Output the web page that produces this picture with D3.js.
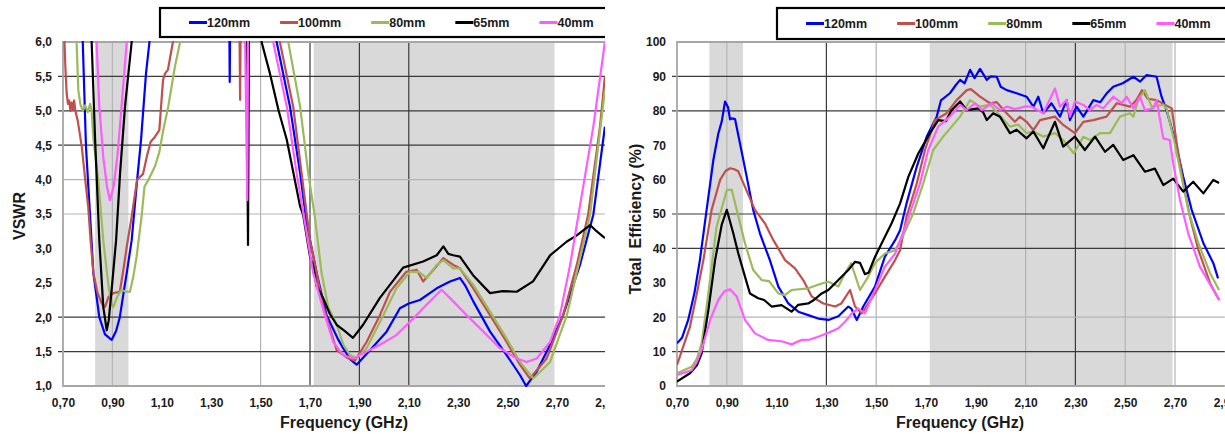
<!DOCTYPE html>
<html>
<head>
<meta charset="utf-8">
<script src="https://cdn.jsdelivr.net/npm/d3@7"></script>
<style>
body { margin: 0; background: #fff; }
text { font-family: "Liberation Sans", Arial, sans-serif; font-weight: bold; fill: #1a1a1a; }
</style>
</head>
<body>
<svg id="chart" width="1225" height="434"></svg>
<script>
var freqTicks = [0.7, 0.9, 1.1, 1.3, 1.5, 1.7, 1.9, 2.1, 2.3, 2.5, 2.7, 2.9];
var vswrTicks = [1, 1.5, 2, 2.5, 3, 3.5, 4, 4.5, 5, 5.5, 6];
var effTicks = [0, 10, 20, 30, 40, 50, 60, 70, 80, 90, 100];
var seriesNames = ["120mm", "100mm", "80mm", "65mm", "40mm"];
var seriesColors = ["#0000ff", "#c0504d", "#9bbb59", "#000000", "#ff5cff"];
var bands = [[0.83, 0.965], [1.715, 2.69]];

// which grid lines the original shows (dark / light)
var vswrGridDark = [1.5, 2, 4.5, 5, 5.5];
var vswrGridLight = [3.5, 4];
var vswrVGridDark = [1.7, 1.9, 2.1];
var vswrVGridLight = [0.9, 1.5];
var effGridDark = [10, 40, 50, 80, 90];
var effGridLight = [20];
var effVGridDark = [1.3, 2.3];
var effVGridLight = [0.9, 1.5, 2.1, 2.5, 2.7];

// VSWR, [GHz, value]; values above 6 run off the top of the plot
var vswr120 = [[0.70, 9], [0.76, 7.5], [0.78, 6.0], [0.793, 4.48], [0.809, 3.51], [0.823, 2.64], [0.847, 2.0], [0.87, 1.75], [0.897, 1.67], [0.915, 1.8], [0.93, 2.0], [0.945, 2.35], [0.958, 2.64], [0.978, 3.12], [1.0, 3.99], [1.016, 4.58], [1.036, 5.54], [1.05, 6.0], [1.1, 7.5], [1.3, 8.5], [1.37, 8], [1.375, 5.42], [1.38, 8], [1.5, 8], [1.565, 6.0], [1.619, 5.06], [1.66, 4.09], [1.687, 3.36], [1.727, 2.64], [1.767, 2.03], [1.815, 1.67], [1.834, 1.55], [1.865, 1.38], [1.889, 1.31], [1.95, 1.55], [2.01, 1.79], [2.064, 2.13], [2.1, 2.2], [2.145, 2.25], [2.213, 2.42], [2.267, 2.52], [2.307, 2.57], [2.33, 2.45], [2.361, 2.23], [2.429, 1.79], [2.496, 1.45], [2.55, 1.16], [2.575, 1.0], [2.618, 1.21], [2.665, 1.55], [2.725, 2.03], [2.793, 2.76], [2.847, 3.49], [2.894, 4.77]];
var vswr100 = [[0.703, 8], [0.706, 6.0], [0.71, 5.6], [0.715, 5.25], [0.72, 5.1], [0.725, 5.15], [0.73, 5.0], [0.735, 5.12], [0.74, 5.02], [0.745, 5.15], [0.75, 5.0], [0.76, 4.85], [0.776, 4.48], [0.79, 4.0], [0.802, 3.61], [0.812, 3.1], [0.823, 2.64], [0.84, 2.35], [0.857, 2.2], [0.87, 2.15], [0.885, 2.3], [0.904, 2.35], [0.93, 2.37], [0.945, 2.7], [0.958, 3.02], [0.978, 3.46], [1.0, 4.0], [1.024, 4.08], [1.039, 4.33], [1.055, 4.55], [1.072, 4.62], [1.09, 4.72], [1.105, 5.45], [1.113, 5.54], [1.125, 5.6], [1.145, 6.0], [1.2, 7.5], [1.41, 8], [1.417, 5.16], [1.423, 8], [1.52, 8], [1.578, 6.0], [1.632, 5.06], [1.666, 4.09], [1.70, 3.12], [1.754, 2.15], [1.808, 1.52], [1.854, 1.40], [1.882, 1.37], [1.929, 1.64], [1.983, 2.03], [2.024, 2.37], [2.09, 2.66], [2.132, 2.69], [2.158, 2.52], [2.2, 2.69], [2.24, 2.86], [2.28, 2.76], [2.307, 2.71], [2.361, 2.42], [2.429, 2.03], [2.496, 1.64], [2.55, 1.31], [2.59, 1.11], [2.658, 1.40], [2.725, 2.03], [2.78, 2.76], [2.826, 3.49], [2.874, 4.77], [2.894, 5.5]];
var vswr80 = [[0.75, 8], [0.755, 6.0], [0.762, 5.3], [0.77, 5.1], [0.78, 5.0], [0.79, 5.08], [0.80, 4.98], [0.81, 5.1], [0.816, 5.0], [0.823, 4.58], [0.843, 3.99], [0.863, 3.12], [0.883, 2.49], [0.895, 2.2], [0.904, 2.15], [0.92, 2.3], [0.937, 2.40], [0.955, 2.37], [0.971, 2.37], [0.985, 2.6], [0.998, 2.88], [1.018, 3.46], [1.03, 3.9], [1.045, 3.99], [1.072, 4.19], [1.09, 4.4], [1.106, 4.72], [1.126, 5.06], [1.153, 5.64], [1.174, 6.0], [1.25, 8], [1.55, 8], [1.612, 6.0], [1.66, 5.06], [1.693, 4.09], [1.72, 3.45], [1.747, 2.64], [1.774, 2.15], [1.808, 1.89], [1.835, 1.6], [1.862, 1.45], [1.889, 1.40], [1.929, 1.55], [1.997, 2.03], [2.05, 2.42], [2.105, 2.66], [2.14, 2.66], [2.172, 2.57], [2.213, 2.76], [2.24, 2.83], [2.28, 2.71], [2.307, 2.71], [2.361, 2.47], [2.429, 2.08], [2.496, 1.69], [2.55, 1.35], [2.604, 1.11], [2.672, 1.35], [2.74, 2.03], [2.787, 2.76], [2.834, 3.49], [2.894, 5.30]];
var vswr65 = [[0.80, 8], [0.816, 6.0], [0.83, 4.58], [0.847, 3.12], [0.863, 2.15], [0.877, 1.81], [0.885, 1.95], [0.897, 2.40], [0.915, 3.12], [0.931, 4.09], [0.951, 5.06], [0.978, 6.0], [1.05, 8], [1.44, 8], [1.449, 3.05], [1.455, 8], [1.49, 8], [1.504, 6.0], [1.538, 5.54], [1.573, 5.0], [1.606, 4.58], [1.66, 3.61], [1.672, 3.49], [1.70, 2.88], [1.712, 2.76], [1.727, 2.45], [1.753, 2.28], [1.78, 2.05], [1.808, 1.89], [1.84, 1.8], [1.874, 1.70], [1.915, 1.89], [1.983, 2.28], [2.077, 2.72], [2.158, 2.81], [2.213, 2.90], [2.24, 3.03], [2.26, 2.92], [2.28, 2.90], [2.307, 2.88], [2.36, 2.61], [2.429, 2.35], [2.48, 2.38], [2.537, 2.37], [2.603, 2.52], [2.672, 2.90], [2.74, 3.10], [2.78, 3.19], [2.834, 3.34], [2.86, 3.25], [2.894, 3.15]];
var vswr40 = [[0.82, 8], [0.836, 6.0], [0.847, 5.06], [0.863, 4.33], [0.878, 3.9], [0.89, 3.70], [0.905, 3.9], [0.92, 4.33], [0.937, 5.06], [0.958, 6.0], [1.0, 8], [1.43, 8], [1.446, 3.70], [1.452, 8], [1.50, 8], [1.551, 6.0], [1.606, 5.06], [1.646, 4.09], [1.68, 3.36], [1.713, 2.64], [1.76, 2.03], [1.794, 1.64], [1.834, 1.45], [1.876, 1.40], [1.929, 1.50], [1.983, 1.60], [2.05, 1.74], [2.118, 1.98], [2.172, 2.18], [2.233, 2.40], [2.28, 2.23], [2.334, 2.03], [2.402, 1.79], [2.469, 1.55], [2.537, 1.40], [2.577, 1.35], [2.618, 1.40], [2.672, 1.64], [2.712, 2.03], [2.753, 2.76], [2.787, 3.49], [2.847, 4.77], [2.894, 6.0]];

// total efficiency (%), [GHz, value]
var eff120 = [[0.70, 12.4], [0.72, 14], [0.745, 19.2], [0.77, 27], [0.792, 36.6], [0.819, 51.2], [0.846, 65.7], [0.866, 73.4], [0.88, 77], [0.893, 82.7], [0.905, 81], [0.913, 77.5], [0.92, 77.8], [0.933, 77.6], [0.953, 70.5], [0.98, 60.8], [1.006, 51.2], [1.033, 44.4], [1.05, 41], [1.073, 36.6], [1.107, 28.9], [1.147, 24.0], [1.187, 21.6], [1.227, 20.6], [1.267, 19.6], [1.308, 19.2], [1.348, 20.3], [1.388, 23.1], [1.40, 22.5], [1.422, 19.2], [1.448, 23.1], [1.495, 28.9], [1.535, 37.6], [1.576, 42.4], [1.596, 45.3], [1.622, 53.1], [1.663, 63.8], [1.703, 72.5], [1.743, 78.3], [1.76, 83], [1.796, 85.1], [1.82, 87.5], [1.837, 89.0], [1.855, 88], [1.877, 91.9], [1.895, 89.5], [1.917, 92.2], [1.944, 89.0], [1.96, 90], [1.984, 89.9], [2.0, 87], [2.024, 86.0], [2.064, 85.1], [2.104, 84.1], [2.131, 81.2], [2.151, 84.1], [2.171, 79.3], [2.204, 82.2], [2.238, 78.3], [2.265, 83.1], [2.278, 77.3], [2.305, 81.2], [2.332, 78.3], [2.372, 83.1], [2.40, 82.5], [2.425, 85], [2.452, 87.0], [2.49, 88], [2.533, 89.9], [2.56, 88.5], [2.586, 90.4], [2.626, 89.9], [2.646, 84.1], [2.666, 80.2], [2.70, 71.5], [2.733, 60.8], [2.767, 51.2], [2.814, 41.5], [2.854, 35.7], [2.873, 31.3]];
var eff100 = [[0.70, 6.1], [0.752, 17.2], [0.78, 27], [0.806, 36.6], [0.839, 51.2], [0.873, 59.9], [0.895, 62.5], [0.913, 63.3], [0.93, 63], [0.946, 62.4], [0.973, 57.9], [1.013, 51.2], [1.053, 47.3], [1.087, 42.4], [1.134, 36.6], [1.174, 34.2], [1.207, 30.8], [1.241, 26.0], [1.288, 24.0], [1.335, 23.1], [1.36, 24], [1.395, 27.9], [1.415, 23.1], [1.442, 21.1], [1.495, 26.9], [1.535, 31.8], [1.576, 36.6], [1.596, 39.5], [1.622, 49.2], [1.663, 58.9], [1.696, 68.6], [1.736, 77.3], [1.783, 79.3], [1.823, 83.1], [1.864, 86.0], [1.88, 86.3], [1.917, 84.1], [1.957, 82.2], [1.984, 82.5], [2.024, 79.3], [2.057, 76.8], [2.077, 78.3], [2.104, 76.8], [2.131, 74.4], [2.158, 77.3], [2.218, 78.3], [2.251, 75.9], [2.298, 73.5], [2.332, 76.8], [2.372, 77.3], [2.425, 78.3], [2.466, 82.2], [2.519, 81.2], [2.545, 83.1], [2.568, 86.0], [2.59, 83.5], [2.626, 83.1], [2.666, 81.5], [2.687, 80.7], [2.707, 70.5], [2.733, 58.9], [2.76, 49.2], [2.794, 39.5], [2.841, 29.9], [2.877, 25.0]];
var eff80 = [[0.70, 3.7], [0.759, 5.6], [0.78, 8], [0.799, 12.4], [0.826, 26.9], [0.859, 46.3], [0.90, 57.0], [0.92, 57.0], [0.94, 51.2], [0.973, 41.5], [1.006, 33.7], [1.04, 30.8], [1.07, 30.5], [1.107, 26.9], [1.133, 26.4], [1.16, 27.9], [1.227, 28.4], [1.281, 29.8], [1.308, 30.3], [1.348, 28.9], [1.375, 32.8], [1.399, 35.7], [1.435, 27.9], [1.468, 31.8], [1.495, 35.7], [1.535, 38.5], [1.576, 39.5], [1.61, 44], [1.649, 50.2], [1.689, 58.9], [1.729, 68.6], [1.769, 72.5], [1.803, 75.4], [1.837, 78.3], [1.877, 83.1], [1.917, 81.2], [1.957, 81.8], [1.977, 80.2], [2.037, 75.4], [2.07, 76], [2.104, 73.5], [2.131, 74], [2.171, 72.5], [2.218, 73.5], [2.251, 71.5], [2.294, 67.6], [2.332, 72.5], [2.358, 71.5], [2.399, 73.5], [2.439, 73.5], [2.479, 78.3], [2.519, 79.3], [2.533, 78.3], [2.552, 83.1], [2.579, 86.0], [2.606, 81.2], [2.653, 81.7], [2.666, 80.7], [2.693, 72.5], [2.726, 60.8], [2.753, 51.2], [2.794, 41.5], [2.841, 32.8], [2.877, 27.9]];
var eff65 = [[0.70, 1.3], [0.752, 3.7], [0.78, 6], [0.799, 9.5], [0.826, 22.1], [0.853, 36.6], [0.88, 47], [0.90, 51.2], [0.926, 44.4], [0.946, 38.6], [0.973, 31.8], [0.993, 26.9], [1.026, 25.5], [1.05, 25], [1.08, 23.1], [1.12, 23.5], [1.16, 21.6], [1.187, 23.6], [1.227, 24.0], [1.25, 25], [1.281, 26.9], [1.308, 27.9], [1.348, 30.8], [1.388, 33.7], [1.415, 36.1], [1.435, 35.8], [1.455, 32.5], [1.47, 33], [1.495, 37.5], [1.535, 43.4], [1.562, 47.3], [1.596, 53.1], [1.629, 60.8], [1.669, 67.6], [1.716, 73.5], [1.749, 77.3], [1.78, 77], [1.803, 80.2], [1.837, 82.7], [1.863, 80.2], [1.91, 80.7], [1.93, 79.5], [1.944, 77.3], [1.97, 79.3], [1.997, 78.3], [2.037, 73.5], [2.064, 74.5], [2.104, 72.0], [2.131, 74.0], [2.171, 69.1], [2.218, 76.8], [2.251, 69.6], [2.298, 72.5], [2.338, 68.6], [2.379, 72.5], [2.419, 68.1], [2.452, 70.1], [2.492, 65.7], [2.533, 67.1], [2.579, 62.3], [2.619, 63.2], [2.653, 58.4], [2.693, 60.3], [2.733, 56.5], [2.773, 59.4], [2.814, 56.0], [2.854, 59.9], [2.877, 59.0]];
var eff40 = [[0.70, 3.2], [0.759, 4.6], [0.78, 7], [0.799, 10.5], [0.833, 19.2], [0.866, 25.0], [0.89, 27.5], [0.913, 28.1], [0.94, 26.0], [0.973, 19.2], [1.013, 15.3], [1.066, 13.4], [1.12, 13.0], [1.16, 12.1], [1.2, 13.4], [1.234, 13.5], [1.267, 14.3], [1.308, 15.5], [1.348, 16.8], [1.375, 18.7], [1.402, 21.1], [1.428, 22.5], [1.455, 21.1], [1.495, 27.9], [1.535, 34.7], [1.576, 38.5], [1.62, 47], [1.676, 58.9], [1.709, 68.6], [1.749, 75.4], [1.796, 78.3], [1.837, 81.7], [1.863, 80.2], [1.897, 82.2], [1.924, 80.2], [1.964, 82.2], [1.997, 80.2], [2.024, 81.2], [2.057, 80.5], [2.097, 81.2], [2.124, 81.2], [2.171, 79.3], [2.218, 86.5], [2.238, 81.2], [2.265, 83.1], [2.278, 78.3], [2.298, 82.7], [2.332, 81.7], [2.358, 80.2], [2.385, 81.7], [2.412, 80.7], [2.452, 84.1], [2.486, 82.2], [2.506, 84.1], [2.533, 80.7], [2.559, 84.1], [2.579, 80.2], [2.613, 80.7], [2.626, 83.1], [2.653, 72.0], [2.679, 71.5], [2.693, 64.7], [2.72, 54.1], [2.753, 44.4], [2.8, 34.7], [2.877, 25.0]];

var plotTop = 42,
    plotBottom = 386;

var svg = d3.select("#chart");
var defs = svg.append("defs");

function commaFmt(spec) {
    var f = d3.format(spec);
    return function (d) { return f(d).replace(".", ","); };
}

function drawPanel(cfg) {
    var x = d3.scaleLinear()
        .domain([freqTicks[0], freqTicks[freqTicks.length - 1]])
        .range([cfg.left, cfg.right]);
    var y = d3.scaleLinear()
        .domain([cfg.ticks[0], cfg.ticks[cfg.ticks.length - 1]])
        .range([plotBottom, plotTop]);

    defs.append("clipPath").attr("id", cfg.id + "-panel")
        .append("rect")
        .attr("x", cfg.clip0).attr("y", 0)
        .attr("width", cfg.clip1 - cfg.clip0).attr("height", 434);
    defs.append("clipPath").attr("id", cfg.id + "-plot")
        .append("rect")
        .attr("x", cfg.left).attr("y", plotTop - 1)
        .attr("width", cfg.clip1 - cfg.left).attr("height", plotBottom - plotTop + 2);

    var g = svg.append("g").attr("clip-path", "url(#" + cfg.id + "-panel)");

    g.selectAll(".band")
        .data(bands)
        .enter()
        .append("rect")
        .attr("class", "band")
        .attr("x", function (d) { return x(d[0]); })
        .attr("y", plotTop)
        .attr("width", function (d) { return x(d[1]) - x(d[0]); })
        .attr("height", plotBottom - plotTop)
        .attr("fill", "#d9d9d9");

    g.selectAll(".vlight")
        .data(cfg.vLight)
        .enter()
        .append("line")
        .attr("x1", function (d) { return x(d); })
        .attr("x2", function (d) { return x(d); })
        .attr("y1", plotTop).attr("y2", plotBottom)
        .attr("stroke", "#b4b4b4").attr("stroke-width", 1.2);
    g.selectAll(".vdark")
        .data(cfg.vDark)
        .enter()
        .append("line")
        .attr("x1", function (d) { return x(d); })
        .attr("x2", function (d) { return x(d); })
        .attr("y1", plotTop).attr("y2", plotBottom)
        .attr("stroke", "#3a3a3a").attr("stroke-width", 1.2);
    g.selectAll(".hlight")
        .data(cfg.hLight)
        .enter()
        .append("line")
        .attr("x1", cfg.left).attr("x2", cfg.right)
        .attr("y1", function (d) { return y(d); })
        .attr("y2", function (d) { return y(d); })
        .attr("stroke", "#b4b4b4").attr("stroke-width", 1.2);
    g.selectAll(".hdark")
        .data(cfg.hDark)
        .enter()
        .append("line")
        .attr("x1", cfg.left - 5).attr("x2", cfg.right)
        .attr("y1", function (d) { return y(d); })
        .attr("y2", function (d) { return y(d); })
        .attr("stroke", "#3a3a3a").attr("stroke-width", 1.2);

    // plot frame (left, top, bottom in gray)
    g.append("path")
        .attr("d", "M" + cfg.right + "," + plotTop + "H" + cfg.left + "V" + plotBottom + "H" + cfg.right)
        .attr("fill", "none")
        .attr("stroke", "#a6a6a6")
        .attr("stroke-width", 1.8);

    var line = d3.line()
        .x(function (d) { return x(d[0]); })
        .y(function (d) { return y(d[1]); });

    g.append("g")
        .attr("clip-path", "url(#" + cfg.id + "-plot)")
        .selectAll("path")
        .data(cfg.series)
        .enter()
        .append("path")
        .attr("d", line)
        .attr("fill", "none")
        .attr("stroke", function (d, i) { return seriesColors[i]; })
        .attr("stroke-width", 2.2)
        .attr("stroke-linejoin", "round");

    var xAxis = g.append("g")
        .attr("transform", "translate(0," + plotBottom + ")")
        .call(d3.axisBottom(x).tickValues(freqTicks).tickFormat(commaFmt(".2f")).tickSize(0).tickPadding(12));
    var yAxis = g.append("g")
        .attr("transform", "translate(" + cfg.left + ",0)")
        .call(d3.axisLeft(y).tickValues(cfg.ticks).tickFormat(cfg.fmt).tickSize(0).tickPadding(11));
    [xAxis, yAxis].forEach(function (a) {
        a.select(".domain").remove();
        a.selectAll("text")
            .attr("font-family", "Liberation Sans, Arial, sans-serif")
            .attr("font-size", 12)
            .attr("font-weight", "bold")
            .attr("fill", "#1a1a1a");
    });

    g.append("text")
        .attr("x", cfg.xTitleX)
        .attr("y", 428)
        .attr("text-anchor", "middle")
        .attr("font-size", 16)
        .text("Frequency (GHz)");
    g.append("text")
        .attr("transform", "translate(" + cfg.yTitleX + "," + cfg.yTitleY + ") rotate(-90)")
        .attr("text-anchor", "middle")
        .attr("font-size", 16)
        .style("white-space", "pre")
        .text(cfg.yTitle);

    // legend
    g.append("rect")
        .attr("x", cfg.legX).attr("y", 8)
        .attr("width", 520).attr("height", cfg.legH)
        .attr("fill", "#fff").attr("stroke", "#000").attr("stroke-width", 2.2);
    var lx = cfg.legX + 29,
        ly = 8 + cfg.legH / 2;
    seriesNames.forEach(function (name, i) {
        g.append("line")
            .attr("x1", lx).attr("x2", lx + 18)
            .attr("y1", ly).attr("y2", ly)
            .attr("stroke", seriesColors[i]).attr("stroke-width", 3);
        var t = g.append("text")
            .attr("x", lx + 18)
            .attr("y", ly + 4.5)
            .attr("font-size", 12.5)
            .text(name);
        lx += 18 + t.node().getComputedTextLength() + 30;
    });
}

drawPanel({
    id: "vswr",
    left: 63, right: 606.4, clip0: 0, clip1: 605,
    ticks: vswrTicks, fmt: commaFmt(".1f"),
    hDark: vswrGridDark, hLight: vswrGridLight,
    vDark: vswrVGridDark, vLight: vswrVGridLight,
    series: [vswr120, vswr100, vswr80, vswr65, vswr40],
    xTitleX: 344, yTitle: "VSWR", yTitleX: 25, yTitleY: 216,
    legX: 160, legH: 29
});

drawPanel({
    id: "eff",
    left: 677, right: 1224.8, clip0: 610, clip1: 1225,
    ticks: effTicks, fmt: d3.format("d"),
    hDark: effGridDark, hLight: effGridLight,
    vDark: effVGridDark, vLight: effVGridLight,
    series: [eff120, eff100, eff80, eff65, eff40],
    xTitleX: 960, yTitle: "Total  Efficiency (%)", yTitleX: 641, yTitleY: 219,
    legX: 777, legH: 31
});
</script>
</body>
</html>
